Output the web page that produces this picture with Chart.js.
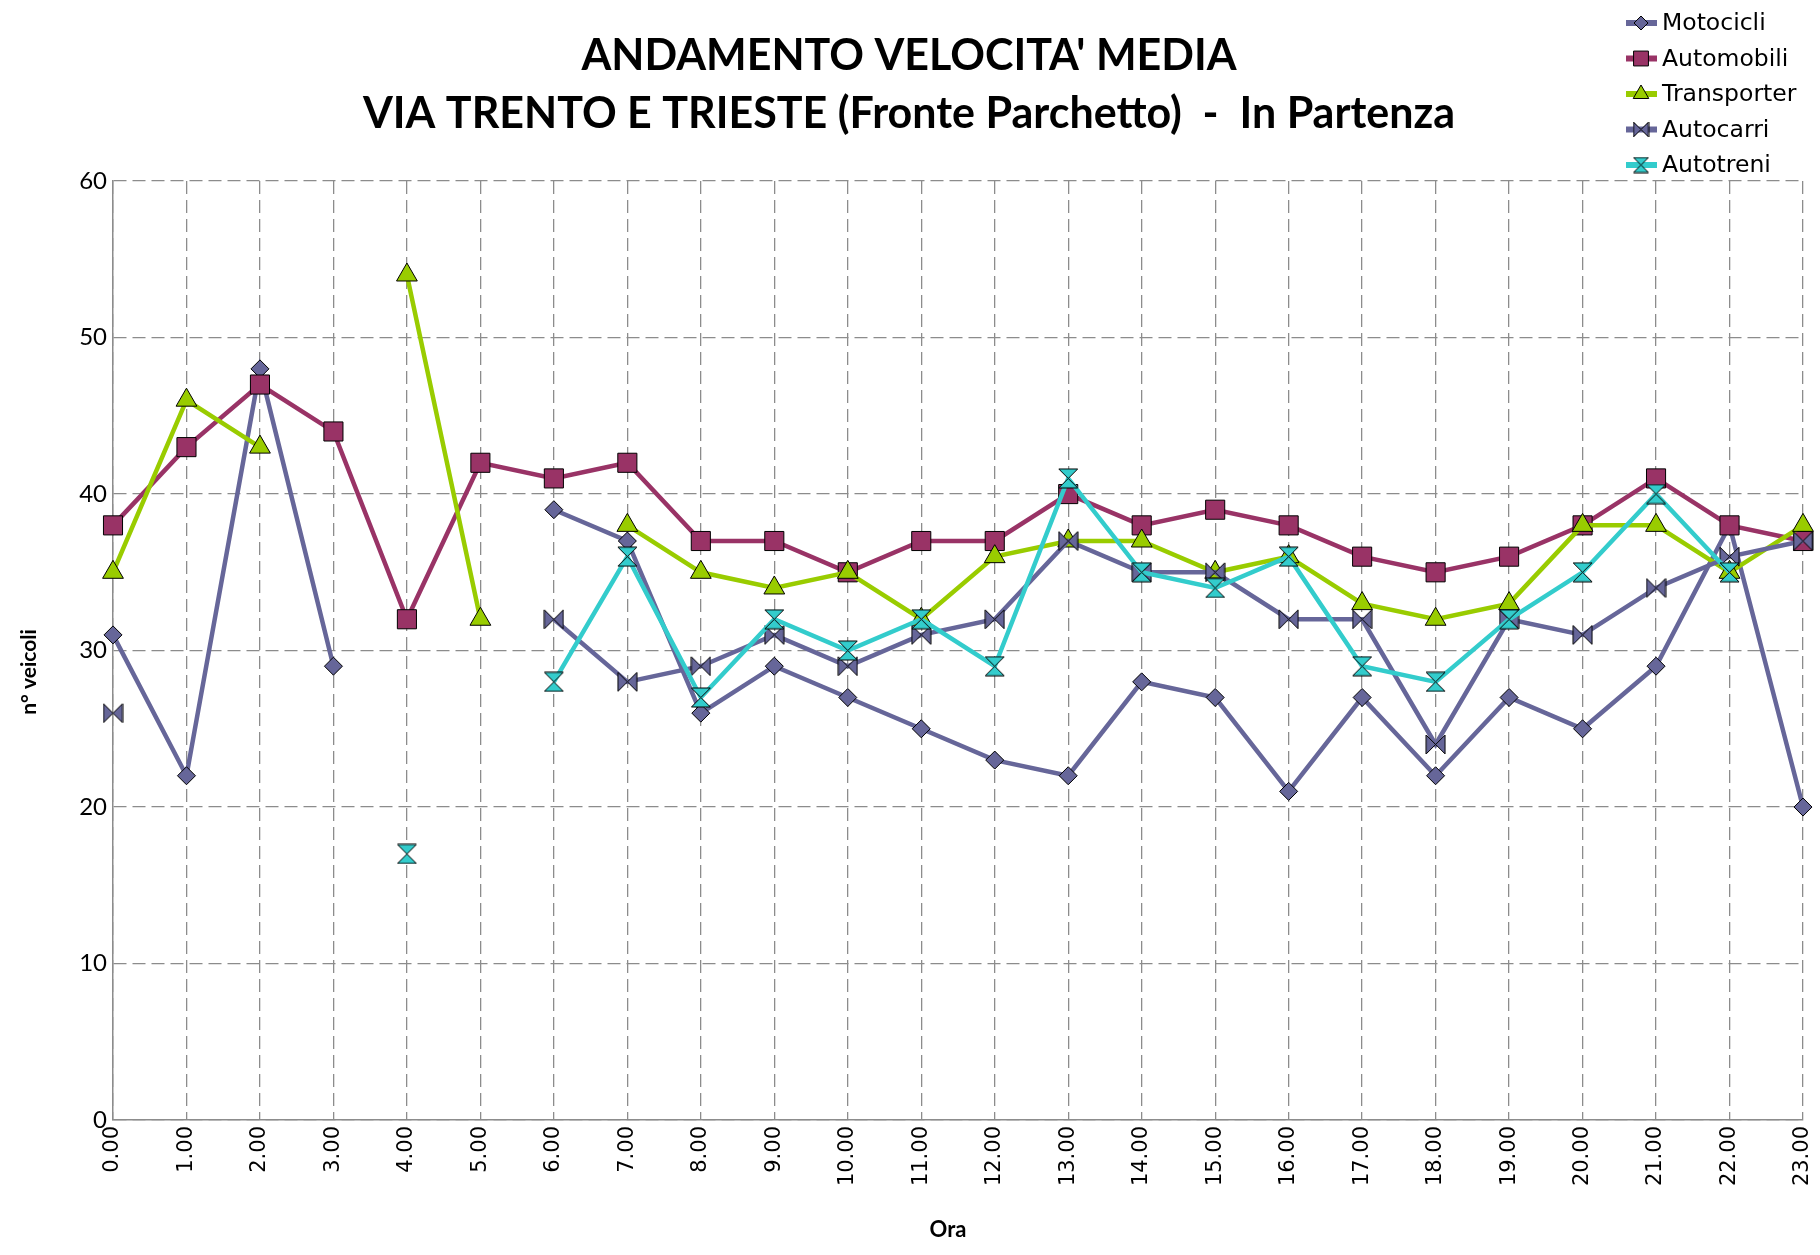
<!DOCTYPE html>
<html>
<head>
<meta charset="utf-8">
<script src="https://cdn.jsdelivr.net/npm/chart.js@4/dist/chart.umd.min.js"></script>
<style>
  html, body { margin: 0; padding: 0; background: #fff; }
</style>
</head>
<body>
<canvas id="chart" width="1820" height="1255"></canvas>
<script>
const hours = ['0.00', '1.00', '2.00', '3.00', '4.00', '5.00', '6.00', '7.00', '8.00', '9.00', '10.00', '11.00',
    '12.00', '13.00', '14.00', '15.00', '16.00', '17.00', '18.00', '19.00', '20.00', '21.00', '22.00', '23.00'];
const motocicli = [31, 22, 48, 29, null, null, 39, 37, 26, 29, 27, 25, 23, 22, 28, 27, 21, 27, 22, 27, 25, 29, 38, 20];
const automobili = [38, 43, 47, 44, 32, 42, 41, 42, 37, 37, 35, 37, 37, 40, 38, 39, 38, 36, 35, 36, 38, 41, 38, 37];
const transporter = [35, 46, 43, null, 54, 32, null, 38, 35, 34, 35, 32, 36, 37, 37, 35, 36, 33, 32, 33, 38, 38, 35, 38];
const autocarri = [26, null, null, null, null, null, 32, 28, 29, 31, 29, 31, 32, 37, 35, 35, 32, 32, 24, 32, 31, 34, 36, 37];
const autotreni = [null, null, null, null, 17, null, 28, 36, 27, 32, 30, 32, 29, 41, 35, 34, 36, 29, 28, 32, 35, 40, 35, null];

// hourglass / bowtie markers drawn on small canvases
function glyph(fill, size, vertical) {
    const c = document.createElement('canvas');
    c.width = size + 2;
    c.height = size + 2;
    const g = c.getContext('2d');
    const a = 1, b = size + 1;
    g.beginPath();
    if (vertical) {
        g.moveTo(a, a); g.lineTo(b, a); g.lineTo(a, b); g.lineTo(b, b);
    } else {
        g.moveTo(a, a); g.lineTo(b, b); g.lineTo(b, a); g.lineTo(a, b);
    }
    g.closePath();
    g.fillStyle = fill;
    g.fill();
    g.strokeStyle = '#000';
    g.lineWidth = 1;
    g.stroke();
    return c;
}

const series = [
    { label: 'Motocicli', data: motocicli, color: '#666699', style: 'rectRot', radius: 9, small: 7 },
    { label: 'Automobili', data: automobili, color: '#993366', style: 'rect', radius: 13.5, small: 10.5 },
    { label: 'Transporter', data: transporter, color: '#99CC00', style: 'triangle', radius: 12, small: 9 },
    { label: 'Autocarri', data: autocarri, color: '#666699', style: glyph('#666699', 19, false), legendStyle: glyph('#666699', 15, false) },
    { label: 'Autotreni', data: autotreni, color: '#33CCCC', style: glyph('#33CCCC', 19, true), legendStyle: glyph('#33CCCC', 15, true) },
];

// legend in the top right corner, plus the two axis titles
const extras = {
    id: 'extras',
    afterDraw(chart) {
        const ctx = chart.ctx;
        ctx.save();
        series.forEach((s, i) => {
            const y = 23 + i * 35.5;
            ctx.strokeStyle = s.color;
            ctx.lineWidth = 6;
            ctx.beginPath();
            ctx.moveTo(1626, y);
            ctx.lineTo(1657, y);
            ctx.stroke();
            ctx.fillStyle = s.color;
            ctx.strokeStyle = '#000';
            ctx.lineWidth = 1;
            Chart.helpers.drawPoint(ctx, {
                pointStyle: s.legendStyle || s.style,
                radius: s.small || 8,
                borderWidth: 1,
                rotation: 0
            }, 1641, y);
            ctx.fillStyle = '#000';
            ctx.font = '23.5px "DejaVu Sans"';
            ctx.textBaseline = 'middle';
            ctx.textAlign = 'left';
            ctx.fillText(s.label, 1662, y + 1);
        });

        ctx.fillStyle = '#000';
        ctx.textAlign = 'center';
        ctx.textBaseline = 'middle';
        ctx.font = 'bold 22px Lato';
        ctx.fillText('Ora', 948, 1230);

        ctx.translate(29, 672);
        ctx.rotate(-Math.PI / 2);
        ctx.font = 'bold 21px Lato';
        ctx.fillText('n° veicoli', 0, 0);
        ctx.restore();
    }
};

new Chart(document.getElementById('chart'), {
    type: 'line',
    data: {
        labels: hours,
        datasets: series.map((s, i) => ({
            label: s.label,
            data: s.data,
            borderColor: s.color,
            backgroundColor: s.color,
            borderWidth: 4.5,
            pointStyle: s.style,
            pointRadius: s.radius || 10,
            pointHoverRadius: s.radius || 10,
            pointBackgroundColor: s.color,
            pointBorderColor: '#000',
            pointBorderWidth: 1,
            tension: 0,
            spanGaps: false,
            clip: false,
            order: series.length - i
        }))
    },
    options: {
        responsive: false,
        animation: false,
        layout: { padding: { top: 0, left: 15, right: 17, bottom: 10 } },
        plugins: {
            legend: { display: false },
            tooltip: { enabled: false },
            title: {
                display: true,
                text: ["ANDAMENTO VELOCITA' MEDIA", 'VIA TRENTO E TRIESTE (Fronte Parchetto)  -  In Partenza'],
                color: '#000',
                font: { family: 'Lato', size: 43, weight: 'bold', lineHeight: 1.35 },
                padding: { top: 27, bottom: 38 }
            }
        },
        scales: {
            x: {
                afterFit(scale) {
                    scale.height = 125;
                    scale.paddingLeft = 0;
                    scale.paddingRight = 0;
                },
                grid: { color: '#8c8c8c', lineWidth: 1.3, drawTicks: false },
                border: { color: '#8c8c8c', width: 1.5, dash: [13, 6] },
                ticks: {
                    color: '#000',
                    font: { family: 'DejaVu Sans', size: 21 },
                    minRotation: 90,
                    maxRotation: 90,
                    autoSkip: false,
                    padding: 6
                }
            },
            y: {
                min: 0,
                max: 60,
                afterFit(scale) { scale.width = 98; },
                grid: { color: '#8c8c8c', lineWidth: 1.3, drawTicks: false },
                border: { color: '#8c8c8c', width: 1.5, dash: [13, 6] },
                ticks: {
                    stepSize: 10,
                    color: '#000',
                    font: { family: 'Lato', size: 24 },
                    padding: 6
                }
            }
        }
    },
    plugins: [extras]
});
</script>
</body>
</html>
